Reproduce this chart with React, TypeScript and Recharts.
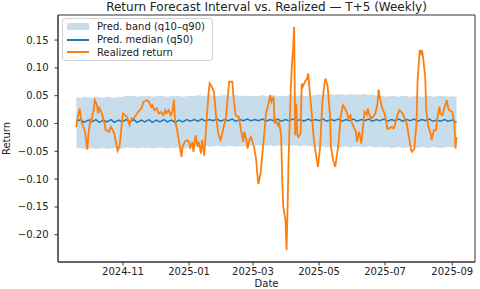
import { ComposedChart, Area, Line, XAxis, YAxis, Legend, ReferenceArea } from "recharts";

const FONT = "'DejaVu Sans', Verdana, sans-serif";
const BLUE = "#1f77b4";
const ORANGE = "#ff7f0e";

// forecast: date, q10, q50, q90
const forecast: [string, number, number, number][] = [
  ["2024-09-19", -0.045, 0.004, 0.047], ["2024-09-23", -0.044, 0.007, 0.046], ["2024-09-26", -0.046, 0.002, 0.048],
  ["2024-09-30", -0.045, 0.006, 0.047], ["2024-10-03", -0.044, 0.003, 0.046], ["2024-10-07", -0.046, 0.007, 0.048],
  ["2024-10-10", -0.045, 0.002, 0.047], ["2024-10-14", -0.044, 0.006, 0.046], ["2024-10-17", -0.046, 0.003, 0.048],
  ["2024-10-21", -0.045, 0.007, 0.047], ["2024-10-24", -0.044, 0.002, 0.046], ["2024-10-28", -0.046, 0.006, 0.048],
  ["2024-10-31", -0.045, 0.003, 0.047],
  ["2024-11-04", -0.043, 0.007, 0.05], ["2024-11-07", -0.044, 0.003, 0.049], ["2024-11-11", -0.043, 0.007, 0.05],
  ["2024-11-14", -0.045, 0.002, 0.048], ["2024-11-18", -0.043, 0.006, 0.05], ["2024-11-21", -0.044, 0.003, 0.049],
  ["2024-11-25", -0.043, 0.007, 0.05], ["2024-11-28", -0.045, 0.002, 0.048], ["2024-12-02", -0.044, 0.006, 0.049],
  ["2024-12-05", -0.043, 0.003, 0.05], ["2024-12-09", -0.044, 0.007, 0.049], ["2024-12-12", -0.045, 0.003, 0.048],
  ["2024-12-16", -0.043, 0.006, 0.05], ["2024-12-19", -0.044, 0.002, 0.049], ["2024-12-23", -0.043, 0.006, 0.05],
  ["2024-12-26", -0.045, 0.003, 0.048], ["2024-12-30", -0.044, 0.007, 0.049],
  ["2025-01-02", -0.041, 0.004, 0.05], ["2025-01-06", -0.04, 0.007, 0.049], ["2025-01-09", -0.042, 0.004, 0.051],
  ["2025-01-13", -0.041, 0.008, 0.05], ["2025-01-16", -0.04, 0.004, 0.049], ["2025-01-20", -0.042, 0.007, 0.051],
  ["2025-01-23", -0.041, 0.005, 0.05], ["2025-01-27", -0.04, 0.008, 0.049], ["2025-01-30", -0.041, 0.004, 0.05],
  ["2025-02-03", -0.042, 0.007, 0.051], ["2025-02-06", -0.04, 0.005, 0.049], ["2025-02-10", -0.041, 0.008, 0.05],
  ["2025-02-13", -0.042, 0.004, 0.051], ["2025-02-17", -0.04, 0.007, 0.049], ["2025-02-20", -0.041, 0.005, 0.05],
  ["2025-02-24", -0.041, 0.008, 0.05], ["2025-02-27", -0.04, 0.005, 0.049],
  ["2025-03-03", -0.04, 0.007, 0.05], ["2025-03-06", -0.039, 0.005, 0.049], ["2025-03-10", -0.041, 0.008, 0.051],
  ["2025-03-13", -0.04, 0.004, 0.049], ["2025-03-17", -0.039, 0.007, 0.05], ["2025-03-20", -0.041, 0.005, 0.051],
  ["2025-03-24", -0.04, 0.008, 0.049], ["2025-03-27", -0.039, 0.004, 0.05], ["2025-03-31", -0.04, 0.007, 0.049],
  ["2025-04-03", -0.041, 0.005, 0.051], ["2025-04-07", -0.039, 0.008, 0.05], ["2025-04-10", -0.04, 0.005, 0.049],
  ["2025-04-14", -0.041, 0.007, 0.051], ["2025-04-17", -0.039, 0.004, 0.05], ["2025-04-21", -0.04, 0.008, 0.049],
  ["2025-04-24", -0.041, 0.005, 0.05], ["2025-04-28", -0.042, 0.007, 0.051],
  ["2025-05-01", -0.042, 0.005, 0.052], ["2025-05-05", -0.041, 0.008, 0.051], ["2025-05-08", -0.043, 0.004, 0.053],
  ["2025-05-12", -0.042, 0.007, 0.052], ["2025-05-15", -0.041, 0.005, 0.051], ["2025-05-19", -0.043, 0.008, 0.053],
  ["2025-05-22", -0.042, 0.004, 0.052], ["2025-05-26", -0.041, 0.007, 0.051], ["2025-05-29", -0.043, 0.005, 0.053],
  ["2025-06-02", -0.042, 0.008, 0.052], ["2025-06-05", -0.041, 0.004, 0.051], ["2025-06-09", -0.042, 0.007, 0.052],
  ["2025-06-12", -0.043, 0.005, 0.053], ["2025-06-16", -0.041, 0.008, 0.051], ["2025-06-19", -0.042, 0.004, 0.052],
  ["2025-06-23", -0.043, 0.007, 0.05], ["2025-06-26", -0.042, 0.005, 0.049],
  ["2025-06-30", -0.043, 0.008, 0.049], ["2025-07-03", -0.042, 0.004, 0.048], ["2025-07-07", -0.044, 0.007, 0.05],
  ["2025-07-10", -0.043, 0.005, 0.049], ["2025-07-14", -0.042, 0.008, 0.048], ["2025-07-17", -0.044, 0.004, 0.05],
  ["2025-07-21", -0.043, 0.007, 0.049], ["2025-07-24", -0.042, 0.005, 0.048], ["2025-07-28", -0.043, 0.008, 0.049],
  ["2025-07-31", -0.044, 0.004, 0.05], ["2025-08-04", -0.042, 0.007, 0.048], ["2025-08-07", -0.043, 0.005, 0.049],
  ["2025-08-11", -0.044, 0.008, 0.05], ["2025-08-14", -0.042, 0.004, 0.048], ["2025-08-18", -0.043, 0.006, 0.049],
  ["2025-08-21", -0.044, 0.004, 0.05], ["2025-08-25", -0.043, 0.007, 0.049], ["2025-08-28", -0.042, 0.004, 0.048],
  ["2025-09-01", -0.043, 0.006, 0.049], ["2025-09-04", -0.042, 0.003, 0.048], ["2025-09-05", -0.042, 0.003, 0.048],
];

// realized 5-day return: date, value
const realized: [string, number][] = [
  ["2024-09-19", -0.006], ["2024-09-20", 0.009], ["2024-09-22", 0.027], ["2024-09-24", 0.0], ["2024-09-25", -0.003],
  ["2024-09-27", -0.015], ["2024-09-29", -0.047], ["2024-09-30", -0.021], ["2024-10-02", 0.009], ["2024-10-03", 0.003],
  ["2024-10-04", 0.018], ["2024-10-05", 0.024], ["2024-10-06", 0.042], ["2024-10-08", 0.033], ["2024-10-09", 0.018],
  ["2024-10-10", 0.03], ["2024-10-11", 0.024], ["2024-10-13", 0.015], ["2024-10-14", 0.006], ["2024-10-15", 0.0],
  ["2024-10-16", -0.012], ["2024-10-19", -0.015], ["2024-10-21", -0.006], ["2024-10-24", -0.018], ["2024-10-26", -0.039],
  ["2024-10-27", -0.049], ["2024-10-29", -0.039], ["2024-10-31", 0.003], ["2024-11-01", 0.018], ["2024-11-03", 0.015],
  ["2024-11-05", 0.011], ["2024-11-07", -0.003], ["2024-11-09", 0.009], ["2024-11-11", 0.009], ["2024-11-13", 0.015],
  ["2024-11-15", 0.021], ["2024-11-18", 0.027], ["2024-11-20", 0.039], ["2024-11-23", 0.042], ["2024-11-25", 0.039],
  ["2024-11-27", 0.03], ["2024-11-28", 0.033], ["2024-11-30", 0.024], ["2024-12-02", 0.027], ["2024-12-04", 0.018],
  ["2024-12-06", 0.021], ["2024-12-08", 0.015], ["2024-12-10", 0.024], ["2024-12-11", 0.018], ["2024-12-13", 0.024],
  ["2024-12-15", 0.015], ["2024-12-17", 0.024], ["2024-12-18", 0.043], ["2024-12-19", 0.006], ["2024-12-21", -0.012],
  ["2024-12-22", -0.024], ["2024-12-24", -0.048], ["2024-12-25", -0.06], ["2024-12-26", -0.042], ["2024-12-28", -0.033],
  ["2024-12-30", -0.03], ["2025-01-01", -0.033], ["2025-01-02", -0.045], ["2025-01-04", -0.033], ["2025-01-05", -0.051],
  ["2025-01-07", -0.021], ["2025-01-09", -0.042], ["2025-01-10", -0.033], ["2025-01-12", -0.054], ["2025-01-13", -0.03],
  ["2025-01-15", -0.058], ["2025-01-17", 0.0], ["2025-01-19", 0.054], ["2025-01-20", 0.072], ["2025-01-22", 0.066],
  ["2025-01-24", 0.057], ["2025-01-26", 0.012], ["2025-01-28", -0.018], ["2025-01-30", -0.03], ["2025-01-31", -0.024],
  ["2025-02-02", -0.006], ["2025-02-04", 0.009], ["2025-02-06", 0.054], ["2025-02-07", 0.075], ["2025-02-10", 0.075],
  ["2025-02-11", 0.048], ["2025-02-13", 0.015], ["2025-02-15", 0.012], ["2025-02-16", 0.012], ["2025-02-18", -0.012],
  ["2025-02-20", -0.033], ["2025-02-21", -0.015], ["2025-02-23", -0.03], ["2025-02-24", -0.045], ["2025-02-26", -0.027],
  ["2025-02-27", -0.024], ["2025-03-02", -0.042], ["2025-03-04", -0.066], ["2025-03-05", -0.09], ["2025-03-06", -0.109],
  ["2025-03-08", -0.09], ["2025-03-10", -0.048], ["2025-03-12", -0.006], ["2025-03-13", 0.018], ["2025-03-15", 0.033],
  ["2025-03-17", 0.051], ["2025-03-18", 0.039], ["2025-03-20", 0.048], ["2025-03-21", 0.0], ["2025-03-22", 0.006],
  ["2025-03-24", -0.003], ["2025-03-25", 0.003], ["2025-03-27", -0.02], ["2025-03-28", -0.1], ["2025-03-29", -0.15],
  ["2025-03-31", -0.174], ["2025-04-01", -0.228], ["2025-04-02", -0.15], ["2025-04-03", -0.054], ["2025-04-05", 0.066],
  ["2025-04-06", 0.108], ["2025-04-07", 0.132], ["2025-04-08", 0.174], ["2025-04-09", -0.021], ["2025-04-10", 0.036],
  ["2025-04-11", -0.021], ["2025-04-12", -0.024], ["2025-04-14", -0.018], ["2025-04-15", 0.072], ["2025-04-16", 0.066],
  ["2025-04-18", 0.075], ["2025-04-20", 0.081], ["2025-04-21", 0.09], ["2025-04-22", 0.066], ["2025-04-24", 0.024],
  ["2025-04-26", -0.024], ["2025-04-28", -0.054], ["2025-04-30", -0.078], ["2025-05-02", -0.042], ["2025-05-04", 0.036],
  ["2025-05-06", 0.072], ["2025-05-07", 0.081], ["2025-05-09", 0.066], ["2025-05-11", 0.018], ["2025-05-12", -0.042],
  ["2025-05-14", -0.066], ["2025-05-16", -0.078], ["2025-05-19", -0.036], ["2025-05-21", 0.012], ["2025-05-23", 0.033],
  ["2025-05-25", 0.027], ["2025-05-27", 0.018], ["2025-05-28", 0.009], ["2025-05-30", 0.015], ["2025-05-31", 0.003],
  ["2025-06-02", -0.006], ["2025-06-04", -0.015], ["2025-06-05", -0.033], ["2025-06-07", -0.015], ["2025-06-08", -0.024],
  ["2025-06-09", -0.036], ["2025-06-10", -0.018], ["2025-06-12", 0.021], ["2025-06-14", 0.015], ["2025-06-15", 0.027],
  ["2025-06-16", 0.018], ["2025-06-18", 0.009], ["2025-06-20", 0.012], ["2025-06-22", 0.018], ["2025-06-24", 0.036],
  ["2025-06-25", 0.061], ["2025-06-26", 0.048], ["2025-06-28", 0.03], ["2025-07-01", 0.015], ["2025-07-03", -0.009],
  ["2025-07-05", -0.009], ["2025-07-07", -0.006], ["2025-07-09", -0.009], ["2025-07-10", -0.003], ["2025-07-12", 0.012],
  ["2025-07-14", 0.024], ["2025-07-16", 0.021], ["2025-07-18", 0.015], ["2025-07-19", 0.009], ["2025-07-21", 0.0],
  ["2025-07-23", -0.024], ["2025-07-25", -0.048], ["2025-07-26", -0.051], ["2025-07-28", -0.045], ["2025-07-30", 0.0],
  ["2025-07-31", 0.078], ["2025-08-02", 0.132], ["2025-08-03", 0.123], ["2025-08-04", 0.132], ["2025-08-05", 0.12],
  ["2025-08-07", 0.084], ["2025-08-08", 0.024], ["2025-08-10", -0.006], ["2025-08-12", -0.018], ["2025-08-13", -0.03],
  ["2025-08-15", -0.012], ["2025-08-17", -0.012], ["2025-08-18", 0.006], ["2025-08-20", 0.03], ["2025-08-21", 0.018],
  ["2025-08-23", 0.015], ["2025-08-25", 0.03], ["2025-08-27", 0.042], ["2025-08-28", 0.03], ["2025-08-29", 0.024],
  ["2025-09-01", 0.021], ["2025-09-03", 0.0], ["2025-09-04", -0.045], ["2025-09-05", -0.024],
];

const xTickDates = ["2024-11-01", "2025-01-01", "2025-03-01", "2025-05-01", "2025-07-01", "2025-09-01"];
const yTicks = [-0.2, -0.15, -0.1, -0.05, 0, 0.05, 0.1, 0.15];
const xRange = ["2024-09-02", "2025-09-22"];
const yRange = [-0.249, 0.195];

const ts = (s: string) => Date.parse(s);

const bandRows = forecast.map(([d, lo, med, hi]) => ({ t: ts(d), band: [lo, hi], med }));
const realRows = realized.map(([d, v]) => ({ t: ts(d), real: v }));

const fmtY = (v: number) => (v < 0 ? "\u2212" : "") + Math.abs(v).toFixed(2);
const fmtX = (t: number) => new Date(t).toISOString().slice(0, 7);

const tickStyle = { fill: "#222", fontSize: 10, fontFamily: FONT };

function LegendBox() {
  const row = { display: "flex", alignItems: "center", height: 12.7 } as const;
  const handle = { width: 22, marginRight: 8 };
  return (
    <div
      style={{
        border: "1px solid #d3d3d3",
        borderRadius: 3,
        background: "rgba(255,255,255,0.85)",
        padding: "1.5px 7px 1.5px 4px",
        fontFamily: FONT,
        fontSize: 10,
        color: "#222",
        whiteSpace: "nowrap",
      }}
    >
      <div style={row}>
        <span style={{ ...handle, height: 7, background: "rgba(31,119,180,0.25)" }} />
        Pred. band (q10–q90)
      </div>
      <div style={row}>
        <span style={{ ...handle, height: 2, background: BLUE }} />
        Pred. median (q50)
      </div>
      <div style={row}>
        <span style={{ ...handle, height: 2, background: ORANGE }} />
        Realized return
      </div>
    </div>
  );
}

export default function App() {
  const xDomain = [ts(xRange[0]), ts(xRange[1])];
  return (
    <div style={{ position: "relative", width: 480, height: 289, background: "#fff" }}>
      <style>{"body{margin:0}"}</style>
      <div
        style={{
          position: "absolute",
          top: 0,
          left: 58,
          width: 417,
          textAlign: "center",
          fontFamily: FONT,
          fontSize: 12,
          color: "#222",
          whiteSpace: "nowrap",
        }}
      >
        Return Forecast Interval vs. Realized — T+5 (Weekly)
      </div>
      <ComposedChart width={480} height={289} margin={{ top: 15, right: 5, bottom: 0, left: 0 }}>
        <XAxis
          dataKey="t"
          type="number"
          domain={xDomain}
          ticks={xTickDates.map(ts)}
          tickFormatter={fmtX}
          tick={tickStyle}
          tickSize={3.5}
          tickMargin={2.5}
          height={27}
          stroke="#333"
          allowDataOverflow
          label={{ value: "Date", position: "insideBottom", offset: 2, fill: "#222", fontSize: 10, fontFamily: FONT }}
        />
        <YAxis
          type="number"
          domain={yRange}
          ticks={yTicks}
          tickFormatter={fmtY}
          tick={tickStyle}
          tickSize={3.5}
          tickMargin={6}
          width={58}
          stroke="#333"
          allowDataOverflow
          label={{
            value: "Return",
            angle: -90,
            position: "insideLeft",
            offset: 6,
            fill: "#222",
            fontSize: 10,
            fontFamily: FONT,
            style: { textAnchor: "middle" },
          }}
        />
        {/* axes frame (matplotlib spines) */}
        <ReferenceArea
          x1={xDomain[0]}
          x2={xDomain[1]}
          y1={yRange[0]}
          y2={yRange[1]}
          fill="none"
          fillOpacity={0}
          stroke="#333"
          strokeWidth={1}
          ifOverflow="visible"
        />
        <Area
          data={bandRows}
          dataKey="band"
          type="linear"
          stroke="none"
          fill={BLUE}
          fillOpacity={0.25}
          isAnimationActive={false}
        />
        <Line data={bandRows} dataKey="med" type="linear" stroke={BLUE} strokeWidth={1.5} dot={false} isAnimationActive={false} />
        <Line data={realRows} dataKey="real" type="linear" stroke={ORANGE} strokeWidth={1.8} dot={false} isAnimationActive={false} />
        <Legend
          layout="vertical"
          align="center"
          verticalAlign="middle"
          wrapperStyle={{ top: 18, left: 62, width: "auto", height: "auto" }}
          content={() => <LegendBox />}
        />
      </ComposedChart>
    </div>
  );
}
